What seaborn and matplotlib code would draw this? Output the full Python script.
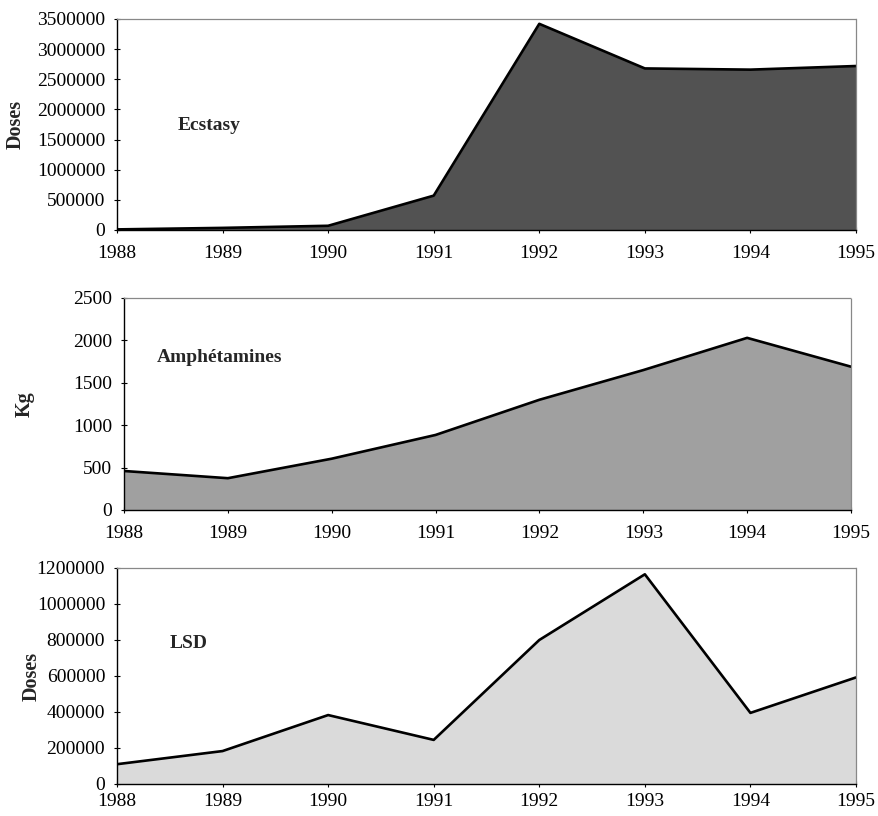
import matplotlib
matplotlib.use("Agg")
import matplotlib.pyplot as plt
import seaborn as sns
import pandas as pd

years = [1988, 1989, 1990, 1991, 1992, 1993, 1994, 1995]
ecstasy = [10000, 35000, 70000, 570000, 3420000, 2680000, 2660000, 2720000]
amphetamines = [460, 375, 605, 885, 1300, 1650, 2030, 1690]
lsd = [110000, 183000, 383000, 245000, 800000, 1165000, 395000, 592000]

titles = ["Ecstasy", "Amphétamines", "LSD"]
ylabels = ["Doses", "Kg", "Doses"]
yticks = [
    [0, 500000, 1000000, 1500000, 2000000, 2500000, 3000000, 3500000],
    [0, 500, 1000, 1500, 2000, 2500],
    [0, 200000, 400000, 600000, 800000, 1000000, 1200000],
]

sns.set_theme(style="ticks")
plt.rcParams["font.family"] = ["Liberation Serif", "DejaVu Serif"]

W, H = 879, 816
fig = plt.figure(figsize=(W / 100, H / 100), dpi=100)

# axes boxes in pixels: left, top, right, bottom
boxes = [(117, 19, 856, 230), (124, 298, 851, 510), (117, 568, 856, 784)]
fills = ["#525252", "#a0a0a0", "#dadada"]
series = [ecstasy, amphetamines, lsd]
label_pos = [(178, 125), (157, 357), (170, 644)]
ylabel_x = [26, 35, 42]
xpads = [8, 8, 4]

for i, (box, fc, vals) in enumerate(zip(boxes, fills, series)):
    l, t, r, b = box
    ax = fig.add_axes([l / W, 1 - b / H, (r - l) / W, (b - t) / H])
    df = pd.DataFrame({"year": years, "value": vals})
    ax.fill_between(df["year"], df["value"], 0, color=fc, linewidth=0)
    sns.lineplot(data=df, x="year", y="value", ax=ax, color="black", linewidth=1.9)
    ax.set_xlim(1988, 1995)
    ax.set_ylim(yticks[i][0], yticks[i][-1])
    ax.set_xticks(years)
    ax.set_xticklabels([str(y) for y in years])
    ax.set_yticks(yticks[i])
    ax.set_yticklabels([str(v) for v in yticks[i]])
    ax.tick_params(axis="both", direction="inout", length=5, width=0.8,
                   labelsize=14, colors="black")
    ax.tick_params(axis="x", pad=xpads[i])
    ax.tick_params(axis="y", pad=6)
    ax.set_xlabel("")
    ax.set_ylabel(ylabels[i], fontsize=14.5, fontweight="bold")
    ax.yaxis.set_label_coords((ylabel_x[i] - l) / (r - l), 0.5)
    for s in ["left", "bottom"]:
        ax.spines[s].set_color("black")
        ax.spines[s].set_linewidth(1.0)
    for s in ["top", "right"]:
        ax.spines[s].set_visible(True)
        ax.spines[s].set_color("#888888")
        ax.spines[s].set_linewidth(0.9)
        ax.spines[s].set_linestyle((0, (1, 1)))
    lx, ly = label_pos[i]
    ax.text((lx - l) / (r - l), 1 - (ly - t) / (b - t), titles[i],
            transform=ax.transAxes, fontsize=14, fontweight="bold",
            ha="left", va="center")
    ax.set_facecolor("white")

fig.patch.set_facecolor("white")
fig.savefig("out.png", dpi=100, facecolor="white")
